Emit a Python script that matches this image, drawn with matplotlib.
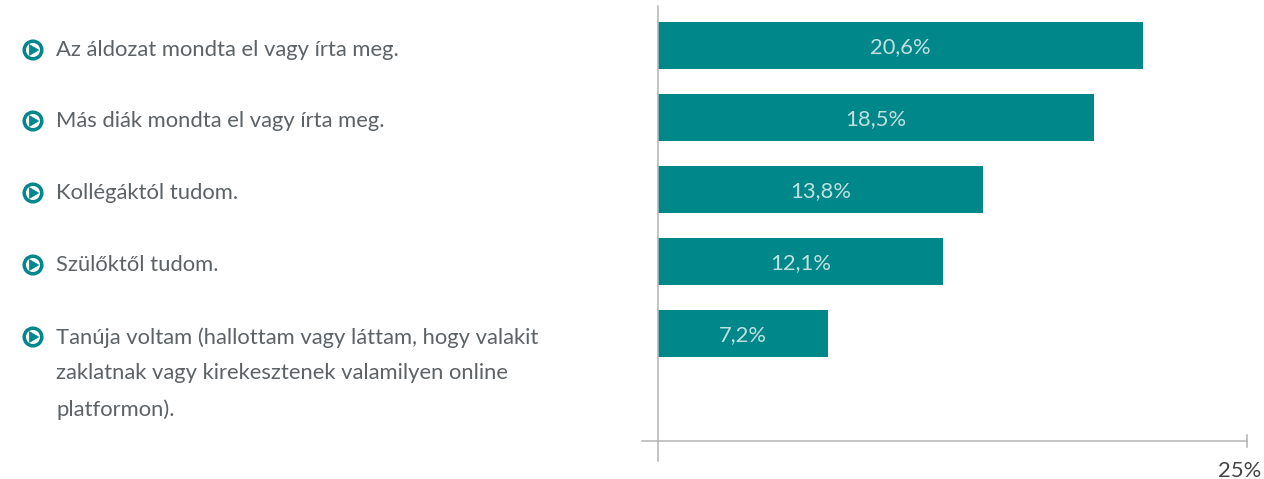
import matplotlib
matplotlib.use("Agg")
import matplotlib.pyplot as plt
from matplotlib.patches import Circle, Polygon

W, H = 1264, 479
categories = [
    "Az áldozat mondta el vagy írta meg.",
    "Más diák mondta el vagy írta meg.",
    "Kollégáktól tudom.",
    "Szülőktől tudom.",
    "Tanúja voltam (hallottam vagy láttam, hogy valakit\nzaklatnak vagy kirekesztenek valamilyen online\nplatformon).",
]
values = [20.6, 18.5, 13.8, 12.1, 7.2]
value_labels = ["20,6%", "18,5%", "13,8%", "12,1%", "7,2%"]
x_max = 25
x_max_label = "25%"

TEAL = "#00878A"
GREY = "#B4B4B4"
TEXT = "#5C6266"
FONT = "Lato"

plt.rcParams["font.family"] = [FONT, "DejaVu Sans"]
fig = plt.figure(figsize=(W / 100, H / 100), dpi=100, facecolor="white")
ax = fig.add_axes([658 / W, 1 - 441 / H, (1247 - 658) / W, (441 - 6) / H])
ax.set_xlim(0, x_max)
ax.set_ylim((441 - 45.5) / 72, (6 - 45.5) / 72)
ax.patch.set_alpha(0)
for s in ax.spines.values():
    s.set_visible(False)
ax.set_xticks([])
ax.set_yticks([])

pos = list(range(len(values)))
ax.barh(pos, values, height=47 / 72, color=TEAL, zorder=2)
for p, v, lab in zip(pos, values, value_labels):
    ax.text(v / 2, p + 0.02, lab, ha="center", va="center", color="#BFE0E0",
            fontsize=15.8, zorder=3)


def px_line(x0, y0, x1, y1):
    fig.add_artist(plt.Line2D([x0 / W, x1 / W], [1 - y0 / H, 1 - y1 / H],
                              color=GREY, lw=1.1, transform=fig.transFigure, zorder=1))


px_line(658, 6, 658, 461)
px_line(642, 441, 1247, 441)
px_line(1247, 435, 1247, 447)
fig.text(1240 / W, 1 - 477 / H, x_max_label, ha="center", va="baseline",
         color="#444444", fontsize=15.8)

icon_y = [50, 121, 193, 265, 337]
for y, lab in zip(icon_y, categories):
    cx, cy = 33, H - y
    fig.add_artist(Circle((cx, cy), 8.8, fill=False, ec=TEAL, lw=2.5,
                          transform=None))
    fig.add_artist(Polygon([(cx - 3.6, cy + 5.4), (cx - 3.6, cy - 5.4), (cx + 5.6, cy)],
                           closed=True, fc=TEAL, ec=TEAL, lw=0.5, transform=None))
    fig.text(56 / W, 1 - (y - 10) / H, lab, ha="left", va="top", color=TEXT,
             fontsize=15.8, linespacing=1.98)

fig.savefig("out.png", dpi=100)
